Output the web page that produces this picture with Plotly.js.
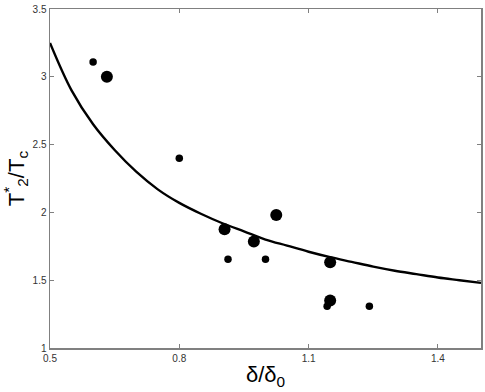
<!DOCTYPE html>
<html>
<head>
<meta charset="utf-8">
<script src="https://cdn.plot.ly/plotly-3.0.1.min.js"></script>
<style>
  html, body { margin: 0; padding: 0; background: #fff; }
</style>
</head>
<body>
<div id="chart" style="width:485px;height:392px;"></div>
<script>
// fitted curve
const curve_x = [0.5, 0.55, 0.6, 0.65, 0.7, 0.75, 0.8, 0.85, 0.9, 0.95, 1.0,
                 1.05, 1.1, 1.15, 1.2, 1.25, 1.3, 1.35, 1.4, 1.45, 1.5];
const curve_y = [3.25, 2.90, 2.65, 2.46, 2.30, 2.17, 2.07, 1.99, 1.92, 1.86, 1.80,
                 1.755, 1.71, 1.67, 1.635, 1.60, 1.57, 1.545, 1.52, 1.50, 1.48];

// large dots
const big_x = [0.632, 0.905, 0.973, 1.025, 1.150, 1.150];
const big_y = [3.00, 1.875, 1.785, 1.98, 1.632, 1.35];

// small dots
const small_x = [0.60, 0.80, 0.913, 1.00, 1.143, 1.241];
const small_y = [3.11, 2.40, 1.654, 1.654, 1.307, 1.307];

const axisColor = "#808080";
const tickFont = { family: "Liberation Sans, Arial, sans-serif", size: 10, color: "#333" };

var fit = {
    x: curve_x,
    y: curve_y,
    type: "scatter",
    mode: "lines",
    line: { color: "#000", width: 2.4, shape: "spline", smoothing: 1 },
    hoverinfo: "skip"
};

var big = {
    x: big_x,
    y: big_y,
    type: "scatter",
    mode: "markers",
    marker: { color: "#000", size: 12 }
};

var small = {
    x: small_x,
    y: small_y,
    type: "scatter",
    mode: "markers",
    marker: { color: "#000", size: 7.5 }
};

var layout = {
    width: 485,
    height: 392,
    showlegend: false,
    paper_bgcolor: "#fff",
    plot_bgcolor: "#fff",
    margin: { l: 50, r: 4, t: 9, b: 44 },
    xaxis: {
        range: [0.5, 1.5],
        tickvals: [0.5, 0.8, 1.1, 1.4],
        ticktext: ["0.5", "0.8", "1.1", "1.4"],
        ticks: "inside",
        ticklen: 4,
        tickcolor: axisColor,
        showgrid: false,
        zeroline: false,
        showline: true,
        linecolor: axisColor,
        linewidth: 1.5,
        mirror: "ticks",
        tickfont: tickFont,
        title: {
            text: "δ/δ<sub>0</sub>",
            font: { family: "Liberation Sans, Arial, sans-serif", size: 22, color: "#000" },
            standoff: 4
        }
    },
    yaxis: {
        range: [1, 3.5],
        tickvals: [1, 1.5, 2, 2.5, 3, 3.5],
        ticktext: ["1", "1.5", "2", "2.5", "3", "3.5"],
        ticks: "inside",
        ticklen: 4,
        tickcolor: axisColor,
        showgrid: false,
        zeroline: false,
        showline: true,
        linecolor: axisColor,
        linewidth: 1.5,
        mirror: "ticks",
        tickfont: tickFont,
        title: {
            text: "T<sup>*</sup><sub>2</sub>/T<sub>c</sub>",
            font: { family: "Liberation Sans, Arial, sans-serif", size: 22, color: "#000" },
            standoff: 2
        }
    }
};

Plotly.newPlot("chart", [fit, big, small], layout, { displayModeBar: false, staticPlot: true });
</script>
</body>
</html>
